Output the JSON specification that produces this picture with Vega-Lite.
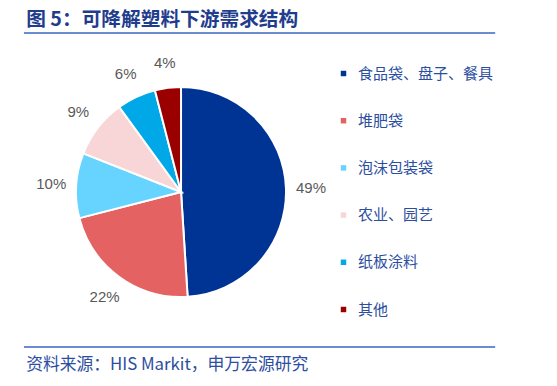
{
  "$schema": "https://vega.github.io/schema/vega-lite/v6.json",
  "autosize": {"type": "fit", "contains": "padding"},
  "width": 557,
  "height": 386,
  "padding": 0,
  "background": "white",
  "config": {"view": {"stroke": null}, "font": "Noto Sans CJK SC"},
  "datasets": {
    "pie": [
      {"idx": 1, "category": "食品袋、盘子、餐具", "share": 0.49},
      {"idx": 2, "category": "堆肥袋", "share": 0.22},
      {"idx": 3, "category": "泡沫包装袋", "share": 0.10},
      {"idx": 4, "category": "农业、园艺", "share": 0.09},
      {"idx": 5, "category": "纸板涂料", "share": 0.06},
      {"idx": 6, "category": "其他", "share": 0.04}
    ],
    "titles": [{"title": "图 5：可降解塑料下游需求结构"}],
    "sources": [{"source": "资料来源：HIS Markit，申万宏源研究"}]
  },
  "layer": [
    {
      "data": {"name": "titles"},
      "mark": {"type": "text", "align": "left", "baseline": "middle", "fontSize": 19.7, "fontWeight": "bold", "color": "#1F3D8C", "font": "Noto Sans CJK SC"},
      "encoding": {
        "x": {"datum": 0.047, "type": "quantitative", "scale": {"domain": [0, 1]}, "axis": null},
        "y": {"datum": 0.949, "type": "quantitative", "scale": {"domain": [0, 1]}, "axis": null},
        "text": {"field": "title"}
      }
    },
    {
      "data": {"name": "titles"},
      "mark": {"type": "rule", "color": "#3A66C4", "strokeWidth": 1.5},
      "encoding": {
        "x": {"datum": 0.043, "type": "quantitative"},
        "x2": {"datum": 0.889},
        "y": {"datum": 0.9145, "type": "quantitative"}
      }
    },
    {
      "data": {"name": "sources"},
      "mark": {"type": "rule", "color": "#3A66C4", "strokeWidth": 1.5},
      "encoding": {
        "x": {"datum": 0.043, "type": "quantitative"},
        "x2": {"datum": 0.889},
        "y": {"datum": 0.101, "type": "quantitative"}
      }
    },
    {
      "data": {"name": "sources"},
      "mark": {"type": "text", "align": "left", "baseline": "middle", "fontSize": 16.8, "color": "#2B4EA0", "font": "Noto Sans CJK SC"},
      "encoding": {
        "x": {"datum": 0.047, "type": "quantitative"},
        "y": {"datum": 0.055, "type": "quantitative"},
        "text": {"field": "source"}
      }
    },
    {
      "data": {"name": "pie"},
      "mark": {"type": "arc", "outerRadius": 105, "stroke": "white", "strokeWidth": 2},
      "encoding": {
        "x": {"datum": 0.325, "type": "quantitative"},
        "y": {"datum": 0.5026, "type": "quantitative"},
        "theta": {"field": "share", "type": "quantitative", "stack": true},
        "order": {"field": "idx", "type": "quantitative"},
        "color": {
          "field": "category",
          "type": "nominal",
          "sort": ["食品袋、盘子、餐具", "堆肥袋", "泡沫包装袋", "农业、园艺", "纸板涂料", "其他"],
          "scale": {
            "domain": ["食品袋、盘子、餐具", "堆肥袋", "泡沫包装袋", "农业、园艺", "纸板涂料", "其他"],
            "range": ["#003494", "#E46262", "#66D4FF", "#F8D5D6", "#00A8E8", "#9A0000"]
          },
          "legend": {
            "orient": "none",
            "legendX": 336,
            "legendY": 66,
            "title": null,
            "symbolType": "square",
            "symbolSize": 30,
            "symbolStrokeWidth": 0,
            "labelFont": "Noto Sans CJK SC",
            "labelFontSize": 15,
            "labelColor": "#2B4EA0",
            "labelOffset": 7,
            "rowPadding": 31.2,
            "labelLimit": 300
          }
        }
      }
    },
    {
      "data": {"name": "pie"},
      "mark": {"type": "text", "radius": 130, "fontSize": 15, "color": "#595959", "font": "Liberation Sans"},
      "encoding": {
        "x": {"datum": 0.325, "type": "quantitative"},
        "y": {"datum": 0.5026, "type": "quantitative"},
        "theta": {"field": "share", "type": "quantitative", "stack": true},
        "order": {"field": "idx", "type": "quantitative"},
        "text": {"field": "share", "type": "quantitative", "format": ".0%"}
      }
    }
  ]
}
